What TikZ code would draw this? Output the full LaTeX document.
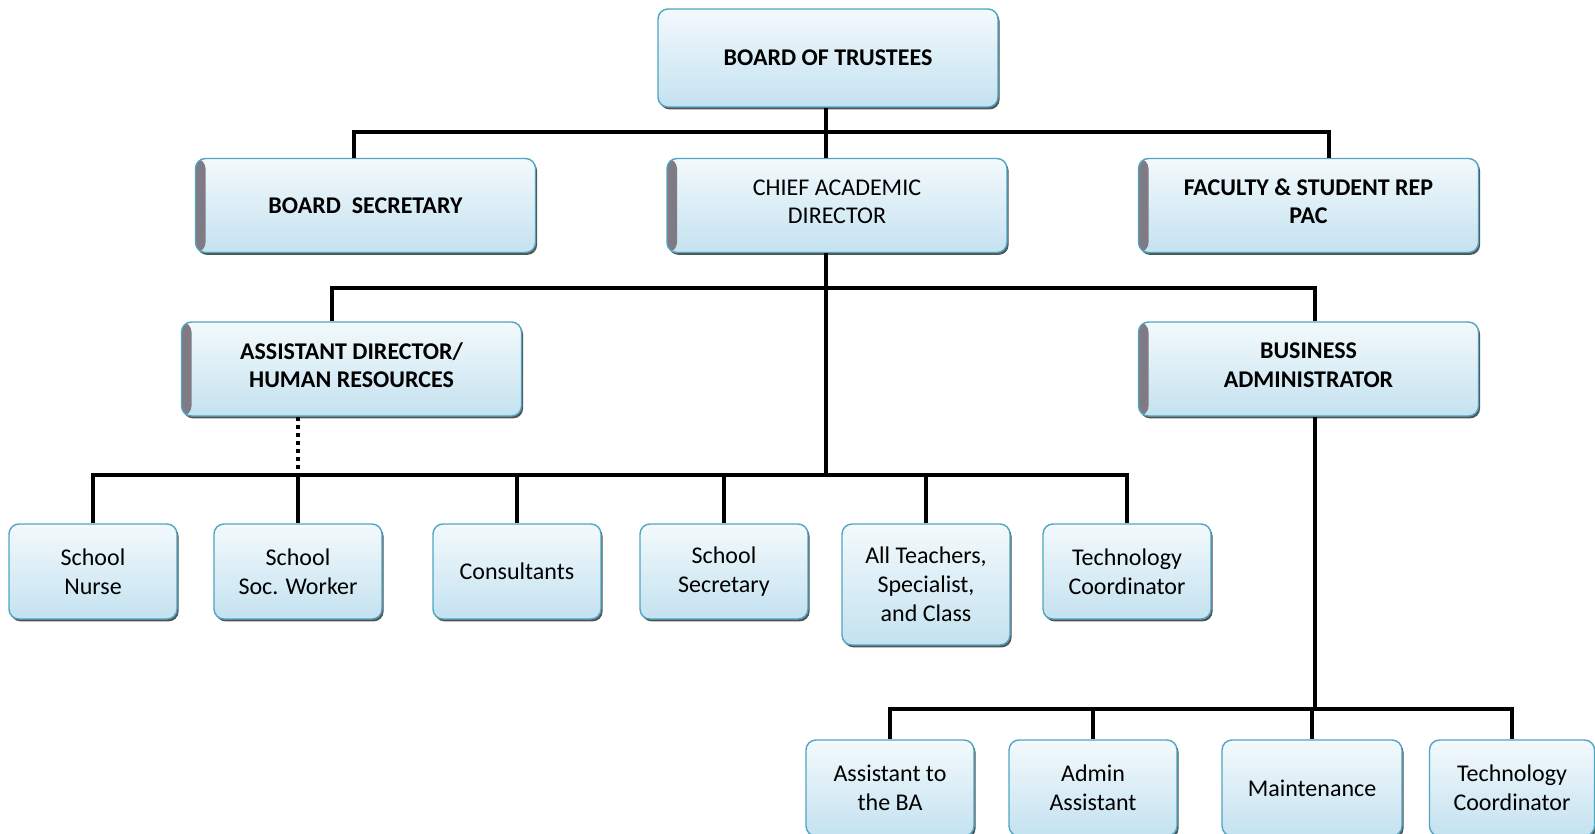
\documentclass[tikz,border=0pt]{standalone}
\usepackage{fontspec}
\setmainfont{Carlito}
\usetikzlibrary{shadows}
\definecolor{boxblue}{RGB}{196,226,240}
\definecolor{boxline}{RGB}{78,166,194}
\definecolor{stripgray}{RGB}{128,122,132}
\tikzset{
  orgbox/.style={rounded corners=5pt, draw=boxline, line width=0.7pt,
    top color=boxblue!20, bottom color=boxblue,
    drop shadow={shadow xshift=0.8pt, shadow yshift=-1.2pt, fill=black!75, opacity=0.9},
    align=center, inner sep=0pt},
  headbox/.style={orgbox, minimum width=170pt, minimum height=47pt, font=\fontsize{12}{14.2}\selectfont\bfseries},
  sidebox/.style={headbox, path picture={\fill[stripgray] (path picture bounding box.south west)
    rectangle ([xshift=5pt]path picture bounding box.north west);}},
  twoline/.style={text depth=4pt},
  staffbox/.style={orgbox, minimum width=84pt, minimum height=47.5pt, font=\fontsize{12}{14.5}\selectfont},
  link/.style={line width=2pt, black},
}
\begin{document}
\begin{tikzpicture}[x=0.5pt, y=-0.5pt]
      \useasboundingbox (0,0) rectangle (1595,834);
      \node[headbox, minimum height=49pt] (trustees) at (828,58) {BOARD OF TRUSTEES};
      \node[sidebox] (secretary) at (365.5,205.5) {BOARD\ \ SECRETARY};
      \node[sidebox, twoline, font=\fontsize{12}{14.2}\selectfont] (chief) at (837,205.5) {CHIEF ACADEMIC\\DIRECTOR};
      \node[sidebox, twoline] (faculty) at (1308.5,205.5) {FACULTY \& STUDENT REP\\PAC};
      \node[sidebox, twoline] (asstdir) at (351.5,369) {ASSISTANT DIRECTOR/\\HUMAN RESOURCES};
      \node[sidebox, twoline] (busadmin) at (1308.5,369) {BUSINESS\\ADMINISTRATOR};
      \node[staffbox] (nurse) at (93,571.5) {School\\Nurse};
      \node[staffbox] (socworker) at (298,571.5) {School\\Soc. Worker};
      \node[staffbox] (consultants) at (517,571.5) {Consultants};
      \node[staffbox] (schoolsec) at (724,571.5) {School\\Secretary};
      \node[staffbox, minimum height=60.5pt] (teachers) at (926,584.5) {All Teachers,\\Specialist,\\and Class};
      \node[staffbox] (techcoord) at (1127,571.5) {Technology\\Coordinator};
      \node[staffbox, minimum height=48pt] (asstba) at (890,788) {Assistant to\\the BA};
      \node[staffbox, minimum height=48pt] (admin) at (1093,788) {Admin\\Assistant};
      \node[staffbox, minimum height=48pt, minimum width=90pt] (maint) at (1312,788) {Maintenance};
      \node[staffbox, minimum height=48pt, minimum width=82.5pt] (techba) at (1512,788) {Technology\\Coordinator};
      \coordinate (top) at (826,132);
      \coordinate (mid) at (826,288);
      \coordinate (row) at (826,475);
      \coordinate (barow) at (1315,709);
      \begin{scope}[link]
        \draw (trustees.south -| top) -- (top);
        \draw (top) -| ([xshift=-6pt]secretary.north);
        \draw (top) -| ([xshift=10pt]faculty.north);
        \draw (top) -- (top |- chief.north);
        \draw (chief.south -| row) -- (row);
        \draw (mid) -| ([xshift=-10pt]asstdir.north);
        \draw (mid) -| ([xshift=3pt]busadmin.north);
        \draw (busadmin.south -| barow) -- (barow);
        \draw (row) -| (nurse);
        \draw (row) -| (socworker);
        \draw (row) -| (consultants);
        \draw (row) -| (schoolsec);
        \draw (row) -| (teachers);
        \draw (row) -| (techcoord);
        \draw[dash pattern=on 2pt off 2pt] (asstdir.south -| socworker) -- (socworker |- row);
        \draw (barow) -| (asstba);
        \draw (barow) -| (admin);
        \draw (barow) -| (maint);
        \draw (barow) -| (techba);
      \end{scope}
    \end{tikzpicture}
\end{document}
